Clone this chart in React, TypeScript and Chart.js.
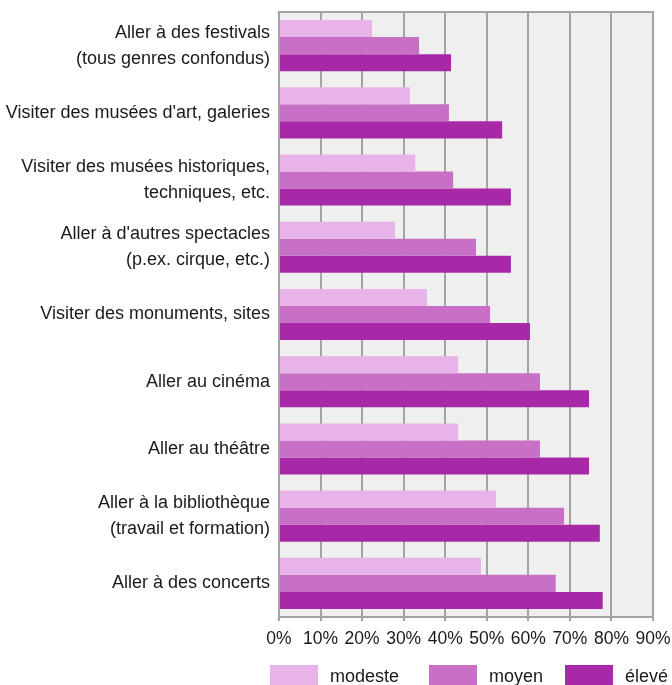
import React, { useEffect, useRef } from "react";
import { Chart, registerables } from "chart.js";

Chart.register(...registerables);

const categories: (string | string[])[] = [
  ["Aller à des festivals", "(tous genres confondus)"],
  "Visiter des musées d'art, galeries",
  ["Visiter des musées historiques,", "techniques, etc."],
  ["Aller à d'autres spectacles", "(p.ex. cirque, etc.)"],
  "Visiter des monuments, sites",
  "Aller au cinéma",
  "Aller au théâtre",
  ["Aller à la bibliothèque", "(travail et formation)"],
  "Aller à des concerts",
];

const modeste = [22.4, 31.5, 32.8, 27.9, 35.6, 43.1, 43.1, 52.2, 48.6];
const moyen = [33.7, 40.9, 41.9, 47.4, 50.8, 62.8, 62.8, 68.6, 66.6];
const eleve = [41.4, 53.7, 55.8, 55.8, 60.4, 74.6, 74.6, 77.2, 77.9];

const tickValues = [0, 10, 20, 30, 40, 50, 60, 70, 80, 90];

const FONT = "'Liberation Sans', Arial, sans-serif";
const FONT_SIZE = 18;
const TEXT = "#1a1a1a";
const GRID = "#a3a3a3";

const plotBg = {
  id: "plotBg",
  beforeDraw(chart: any) {
    const { ctx, chartArea } = chart;
    ctx.save();
    ctx.fillStyle = "#efefef";
    ctx.fillRect(chartArea.left, chartArea.top, chartArea.right - chartArea.left, chartArea.bottom - chartArea.top);
    ctx.restore();
  },
  beforeDatasetsDraw(chart: any) {
    const { ctx, chartArea } = chart;
    ctx.save();
    ctx.strokeStyle = GRID;
    ctx.lineWidth = 2;
    ctx.strokeRect(chartArea.left, chartArea.top, chartArea.right - chartArea.left, chartArea.bottom - chartArea.top);
    ctx.restore();
  },
};

// legend drawn on the canvas below the x axis
const bottomLegend = {
  id: "bottomLegend",
  afterDraw(chart: any) {
    const { ctx } = chart;
    const boxX = [270, 429, 565];
    const boxW = 48;
    const boxTop = 665;
    const boxH = 22;
    ctx.save();
    ctx.font = `${FONT_SIZE}px ${FONT}`;
    ctx.textBaseline = "middle";
    ctx.textAlign = "left";
    chart.data.datasets.forEach((ds: any, i: number) => {
      ctx.fillStyle = ds.backgroundColor;
      ctx.fillRect(boxX[i], boxTop, boxW, boxH);
      ctx.fillStyle = TEXT;
      ctx.fillText(ds.label, boxX[i] + boxW + 12, boxTop + 12);
    });
    ctx.restore();
  },
};

export default function App() {
  const ref = useRef<HTMLCanvasElement>(null);
  useEffect(() => {
    if (!ref.current) return;
    const chart = new Chart(ref.current, {
      type: "bar",
      data: {
        labels: categories,
        datasets: [
          { label: "modeste", data: modeste, backgroundColor: "#e8b3e8" },
          { label: "moyen", data: moyen, backgroundColor: "#c870c6" },
          { label: "élevé", data: eleve, backgroundColor: "#a829a8" },
        ],
      },
      options: {
        indexAxis: "y",
        animation: false,
        responsive: false,
        maintainAspectRatio: false,
        layout: { padding: { top: 12, right: 19, left: 0, bottom: 0 } },
        datasets: { bar: { categoryPercentage: 0.76, barPercentage: 1 } },
        scales: {
          x: {
            min: 0,
            max: 90,
            afterBuildTicks: (axis: any) => {
              axis.ticks = tickValues.map((v) => ({ value: v }));
            },
            afterFit: (s: any) => {
              s.height = 68;
              s.paddingLeft = 0;
              s.paddingRight = 0;
            },
            ticks: {
              callback: (v: any) => v + "%",
              color: TEXT,
              font: { family: FONT, size: 17.5 },
              padding: 8,
              maxRotation: 0,
              autoSkip: false,
            },
            grid: { color: GRID, lineWidth: 2, tickLength: 4, drawTicks: true },
            border: { color: GRID, width: 2 },
          },
          y: {
            afterFit: (s: any) => {
              s.width = 279;
              s.paddingTop = 0;
              s.paddingBottom = 0;
            },
            ticks: {
              color: TEXT,
              font: { family: FONT, size: FONT_SIZE, lineHeight: 1.45 },
              padding: 9,
            },
            grid: { display: false, drawTicks: false },
            border: { color: GRID, width: 2 },
          },
        },
        plugins: {
          legend: { display: false },
          tooltip: { enabled: false },
        },
      },
      plugins: [plotBg, bottomLegend],
    });
    return () => chart.destroy();
  }, []);
  return (
    <div style={{ position: "fixed", left: 0, top: 0, width: 672, height: 685, background: "#fff" }}>
      <canvas ref={ref} width={672} height={685} style={{ width: 672, height: 685, display: "block" }} />
    </div>
  );
}
